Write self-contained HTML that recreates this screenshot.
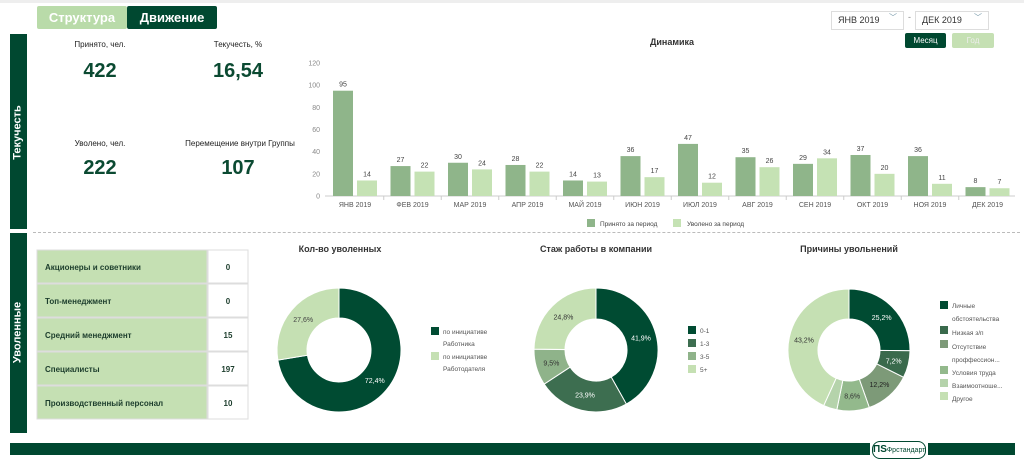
<!DOCTYPE html>
<html><head><meta charset="utf-8"><style>
body{margin:0;width:1024px;height:461px;background:#fff;font-family:"Liberation Sans",sans-serif;overflow:hidden;position:relative}
div{position:absolute}
.t{font-size:8px;color:#222;text-align:center}
.big{font-size:20px;font-weight:bold;color:#0b4a32;text-align:center}
</style></head><body>
<div style="left:0;top:0;width:1024px;height:3px;background:#eee"></div>
<div style="left:37px;top:6px;width:90px;height:23px;background:#b9dba9;color:#fff;font-weight:bold;font-size:13px;line-height:23px;text-align:center;border-radius:2px">Структура</div>
<div style="left:127px;top:6px;width:90px;height:23px;background:#004830;color:#fff;font-weight:bold;font-size:13px;line-height:23px;text-align:center;border-radius:2px">Движение</div>
<div style="left:10px;top:34px;width:17px;height:195px;background:#004830"></div>
<div style="left:10px;top:233px;width:17px;height:200px;background:#004830"></div>
<div style="left:-32px;top:124px;width:100px;height:17px;transform:rotate(-90deg);color:#fff;font-weight:bold;font-size:11px;text-align:center;line-height:17px">Текучесть</div>
<div style="left:-32px;top:324px;width:100px;height:17px;transform:rotate(-90deg);color:#fff;font-weight:bold;font-size:11px;text-align:center;line-height:17px">Уволенные</div>
<div style="left:33px;top:232px;width:987px;border-top:1px dashed #bbb"></div>
<div style="left:10px;top:443px;width:860px;height:12px;background:#004830"></div>
<div style="left:872px;top:441px;width:52px;height:16px;border:1px solid #004830;border-radius:8px;font-size:7px;color:#004830;line-height:16px;text-align:center"><b style="font-size:10px">ПS</b>Фрстандарт</div>
<div style="left:928px;top:443px;width:87px;height:12px;background:#004830"></div>

<div class="t" style="left:50px;top:40px;width:100px">Принято, чел.</div>
<div class="big" style="left:50px;top:60px;width:100px">422</div>
<div class="t" style="left:188px;top:40px;width:100px">Текучесть, %</div>
<div class="big" style="left:188px;top:60px;width:100px">16,54</div>
<div class="t" style="left:50px;top:139px;width:100px">Уволено, чел.</div>
<div class="big" style="left:50px;top:157px;width:100px">222</div>
<div class="t" style="left:160px;top:139px;width:160px">Перемещение внутри Группы</div>
<div class="big" style="left:188px;top:157px;width:100px">107</div>

<div style="left:831px;top:11px;width:71px;height:17px;border:1px solid #ddd;font-size:9px;line-height:17px;color:#333"><span style="position:absolute;left:6px">ЯНВ 2019</span><span style="position:absolute;left:57px;top:-3px;color:#79a;font-size:8px">﹀</span></div>
<div style="left:908px;top:12px;font-size:9px;color:#888">-</div>
<div style="left:915px;top:11px;width:72px;height:17px;border:1px solid #ddd;font-size:9px;line-height:17px;color:#333"><span style="position:absolute;left:6px">ДЕК 2019</span><span style="position:absolute;left:58px;top:-3px;color:#79a;font-size:8px">﹀</span></div>
<div style="left:905px;top:33px;width:41px;height:15px;background:#004830;color:#fff;font-size:8px;line-height:15px;text-align:center;border-radius:2px">Месяц</div>
<div style="left:952px;top:33px;width:42px;height:15px;background:#c5e0b3;color:#eee;font-size:8px;line-height:15px;text-align:center;border-radius:2px">Год</div>
<div style="left:620px;top:37px;width:104px;font-size:9px;font-weight:bold;color:#333;text-align:center">Динамика</div>

<svg id="s" width="1024" height="461" style="position:absolute;left:0;top:0"></svg>
<script>
var s=document.getElementById('s'),h='';
function T(x,y,t,o){o=o||{};h+='<text x="'+x+'" y="'+y+'" font-size="'+(o.fs||7)+'" fill="'+(o.c||'#444')+'" text-anchor="'+(o.a||'middle')+'"'+(o.b?' font-weight="bold"':'')+'>'+t+'</text>';}
var y0=196,k=133/120;
for(var i=0;i<=6;i++){var yy=y0-i*20*k;T(320,yy+2.5,i*20,{a:'end',c:'#888'});}
h+='<line x1="325" y1="196" x2="1015" y2="196" stroke="#ccc"/>';
var d=[95,27,30,28,14,36,47,35,29,37,36,8],l=[14,22,24,22,13,17,12,26,34,20,11,7],m=['ЯНВ','ФЕВ','МАР','АПР','МАЙ','ИЮН','ИЮЛ','АВГ','СЕН','ОКТ','НОЯ','ДЕК'];
for(i=0;i<12;i++){var c=355+i*57.5;
h+='<rect x="'+(c-22)+'" y="'+(y0-d[i]*k)+'" width="20" height="'+(d[i]*k)+'" fill="#8fb58a"/>';
h+='<rect x="'+(c+2)+'" y="'+(y0-l[i]*k)+'" width="20" height="'+(l[i]*k)+'" fill="#c5e2b4"/>';
T(c-12,y0-d[i]*k-4,d[i]);T(c+12,y0-l[i]*k-4,l[i]);T(c,207,m[i]+' 2019',{c:'#555'});
if(i>0)h+='<line x1="'+(c-28.75)+'" y1="196" x2="'+(c-28.75)+'" y2="200" stroke="#ccc"/>';}
h+='<rect x="587" y="219" width="8" height="8" fill="#8fb58a"/><rect x="673" y="219" width="8" height="8" fill="#c5e2b4"/>';
T(600,226,'Принято за период',{a:'start',fs:6.5});T(687,226,'Уволено за период',{a:'start',fs:6.5});
var rows=[['Акционеры и советники',0],['Топ-менеджмент',0],['Средний менеджмент',15],['Специалисты',197],['Производственный персонал',10]];
rows.forEach(function(r,j){var y=250+j*34;
h+='<rect x="37" y="'+y+'" width="170" height="33" fill="#c5e0b3" stroke="#ddd"/><rect x="208" y="'+y+'" width="40" height="33" fill="#fff" stroke="#ddd"/>';
T(45,y+20,r[0],{a:'start',fs:8,b:1,c:'#1c3d2c'});T(228,y+20,r[1],{fs:8,b:1,c:'#1c3d2c'});});
function donut(cx,cy,R,r,vals,cols,labs,lc){var a=0,tot=vals.reduce(function(p,q){return p+q},0);
vals.forEach(function(v,j){var a1=a,a2=a+v/tot*2*Math.PI;a=a2;
function P(rr,an){return (cx+rr*Math.sin(an)).toFixed(2)+','+(cy-rr*Math.cos(an)).toFixed(2);}
var lg=(a2-a1)>Math.PI?1:0;
h+='<path d="M'+P(R,a1)+'A'+R+','+R+' 0 '+lg+' 1 '+P(R,a2)+'L'+P(r,a2)+'A'+r+','+r+' 0 '+lg+' 0 '+P(r,a1)+'Z" fill="'+cols[j]+'" stroke="#fff" stroke-width="1"/>';
if(labs[j]){var mm=(a1+a2)/2,rm=(R+r)/2;T((cx+rm*Math.sin(mm)).toFixed(1),(cy-rm*Math.cos(mm)+2.5).toFixed(1),labs[j],{c:lc[j]});}});}
donut(339,350,62,32,[72.4,27.6],['#004b32','#c5e0b3'],['72,4%','27,6%'],['#fff','#444']);
donut(596,350,62,31,[41.9,23.9,9.5,24.8],['#004b32','#3d6e50','#8fb38a','#c5e0b3'],['41,9%','23,9%','9,5%','24,8%'],['#fff','#fff','#333','#333']);
donut(849,350,61,31,[25.2,7.2,12.2,8.6,3.6,43.2],['#004b32','#3a6a4c','#7d9a78','#93b98c','#b5d3ab','#c5e0b3'],['25,2%','7,2%','12,2%','8,6%','','43,2%'],['#fff','#fff','#222','#333','','#333']);
T(340,252,'Кол-во уволенных',{fs:9,b:1,c:'#333'});T(596,252,'Стаж работы в компании',{fs:9,b:1,c:'#333'});T(849,252,'Причины увольнений',{fs:9,b:1,c:'#333'});
h+='<rect x="431" y="327" width="8" height="8" fill="#004b32"/><rect x="431" y="352" width="8" height="8" fill="#c5e0b3"/>';
T(443,334,'по инициативе',{a:'start',fs:6.5,c:'#555'});T(443,346,'Работника',{a:'start',fs:6.5,c:'#555'});T(443,359,'по инициативе',{a:'start',fs:6.5,c:'#555'});T(443,371,'Работодателя',{a:'start',fs:6.5,c:'#555'});
var c2=['#004b32','#3d6e50','#8fb38a','#c5e0b3'],l2=['0-1','1-3','3-5','5+'];
for(i=0;i<4;i++){h+='<rect x="688" y="'+(326+i*13)+'" width="8" height="8" fill="'+c2[i]+'"/>';T(700,333+i*13,l2[i],{a:'start',fs:6.5,c:'#555'});}
var c3=['#004b32','#3a6a4c','#7d9a78','#93b98c','#b5d3ab','#c5e0b3'],l3=[['Личные',303],['обстоятельства',316],['Низкая з/п',330],['Отсутствие',344],['проффессион...',357],['Условия труда',370],['Взаимоотноше...',383],['Другое',396]],sq=[301,326,340,366,379,392];
for(i=0;i<6;i++)h+='<rect x="940" y="'+sq[i]+'" width="8" height="8" fill="'+c3[i]+'"/>';
l3.forEach(function(q){T(952,q[1]+5,q[0],{a:'start',fs:6.5,c:'#555'});});
s.innerHTML=h;
</script>
</body></html>
